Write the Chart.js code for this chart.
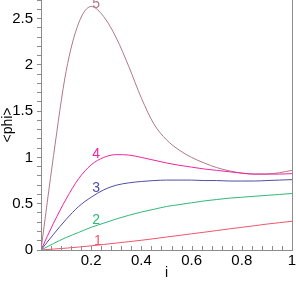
<!DOCTYPE html>
<html><head><meta charset="utf-8">
<script src="https://cdn.jsdelivr.net/npm/chart.js@4"></script>
<style>html,body{margin:0;padding:0;background:#fff}#wrap{width:296px;height:282px}</style>
</head><body><div id="wrap"><canvas id="c"></canvas></div>
<script>
const xs = [0,0.05,0.1,0.15,0.2,0.25,0.3,0.35,0.4,0.45,0.5,0.55,0.6,0.65,0.7,0.75,0.8,0.85,0.9,0.95,1];
const phi1 = [0,0.01,0.02,0.032,0.045,0.06,0.075,0.09,0.105,0.122,0.14,0.157,0.175,0.192,0.21,0.228,0.245,0.262,0.28,0.295,0.31];
const phi2 = [0,0.07,0.135,0.19,0.245,0.29,0.335,0.375,0.41,0.44,0.47,0.49,0.51,0.53,0.545,0.56,0.57,0.58,0.59,0.60,0.61];
const phi3 = [0,0.17,0.33,0.47,0.57,0.65,0.70,0.725,0.74,0.75,0.755,0.755,0.755,0.75,0.75,0.745,0.745,0.745,0.75,0.755,0.76];
const phi4 = [0,0.29,0.55,0.77,0.92,1.00,1.03,1.025,1.00,0.97,0.94,0.915,0.895,0.875,0.86,0.845,0.83,0.82,0.82,0.82,0.825];
const phi5 = [0,1.02,1.93,2.45,2.63,2.52,2.29,1.98,1.64,1.36,1.19,1.08,1.00,0.94,0.89,0.855,0.83,0.82,0.82,0.835,0.86];
const seriesNames = ['1','2','3','4','5'];
const seriesColors = ['#f2546a','#2fb877','#4e4ea8','#f0259e','#b07886'];
const labelX = [0.227,0.22,0.22,0.22,0.22];
const labelY = [0.097,0.32,0.67,1.03,2.66];
const xTitle = 'i';
const yTitle = '<phi>';

const allSeries = [phi1,phi2,phi3,phi4,phi5];
const FONT = 'Liberation Sans, Arial, sans-serif';
const AXIS = '#8c8c8c';

const labelsPlugin = {
  id: 'curveLabels',
  afterDatasetsDraw(chart) {
    const {ctx, scales:{x,y}} = chart;
    ctx.save();
    ctx.font = '14px ' + FONT;
    ctx.textAlign = 'center';
    ctx.textBaseline = 'middle';
    seriesNames.forEach((n,i)=>{
      ctx.fillStyle = seriesColors[i];
      ctx.fillText(n, x.getPixelForValue(labelX[i]), y.getPixelForValue(labelY[i]));
    });
    ctx.restore();
  },
  afterDraw(chart) {
    const {ctx, chartArea:a, scales:{x}} = chart;
    ctx.save();
    ctx.strokeStyle = AXIS;
    ctx.lineWidth = 1;
    ctx.beginPath();
    ctx.moveTo(Math.round(a.right)+0.5, a.top);
    ctx.lineTo(Math.round(a.right)+0.5, a.bottom);
    x.ticks.forEach(t=>{
      const px = Math.round(x.getPixelForValue(t.value))+0.5;
      ctx.moveTo(px, a.bottom);
      ctx.lineTo(px, a.bottom-4);
    });
    ctx.stroke();
    ctx.restore();
  }
};

const isMult = (v,m)=>Math.abs(v/m - Math.round(v/m))<1e-6;

new Chart(document.getElementById('c'), {
  type: 'line',
  data: {
    datasets: allSeries.map((s,i)=>({
      label: seriesNames[i],
      data: xs.map((xv,j)=>({x:xv,y:s[j]})),
      borderColor: seriesColors[i],
      borderWidth: 1,
      pointRadius: 0,
      fill: false,
      cubicInterpolationMode: 'monotone'
    }))
  },
  options: {
    responsive: true,
    maintainAspectRatio: false,
    animation: false,
    devicePixelRatio: 1,
    layout: {padding: {top: 0, right: 4, left: 0, bottom: 0}},
    plugins: {legend: {display: false}, tooltip: {enabled: false}},
    scales: {
      x: {
        type: 'linear', min: 0, max: 1,
        border: {display: true, color: AXIS},
        grid: {display: false, drawTicks: false, tickLength: 0},
        ticks: {
          stepSize: 0.04, autoSkip: false, maxRotation: 0,
          color: '#000', font: {family: FONT, size: 15}, padding: 2,
          callback: v => (v>0 && isMult(v,0.2)) ? String(+v.toFixed(1)) : ''
        },
        title: {display: true, text: xTitle, color: '#000', font: {family: FONT, size: 14}, padding: {top: 0, bottom: 0}},
        afterFit(s){ s.height = 32; s.paddingLeft = 0; s.paddingRight = 0; }
      },
      y: {
        type: 'linear', min: 0, max: 2.7,
        border: {display: true, color: AXIS},
        grid: {drawOnChartArea: false, drawTicks: true, tickLength: 4, color: AXIS},
        ticks: {
          stepSize: 0.1, autoSkip: false,
          color: '#000', font: {family: FONT, size: 15}, padding: 4,
          callback: v => isMult(v,0.5) ? String(+v.toFixed(1)) : ''
        },
        title: {display: true, text: yTitle, color: '#000', font: {family: FONT, size: 14}, padding: {top: 0, bottom: 0}},
        afterFit(s){ s.width = 41; s.paddingTop = 0; s.paddingBottom = 0; }
      }
    }
  },
  plugins: [labelsPlugin]
});
</script></body></html>
